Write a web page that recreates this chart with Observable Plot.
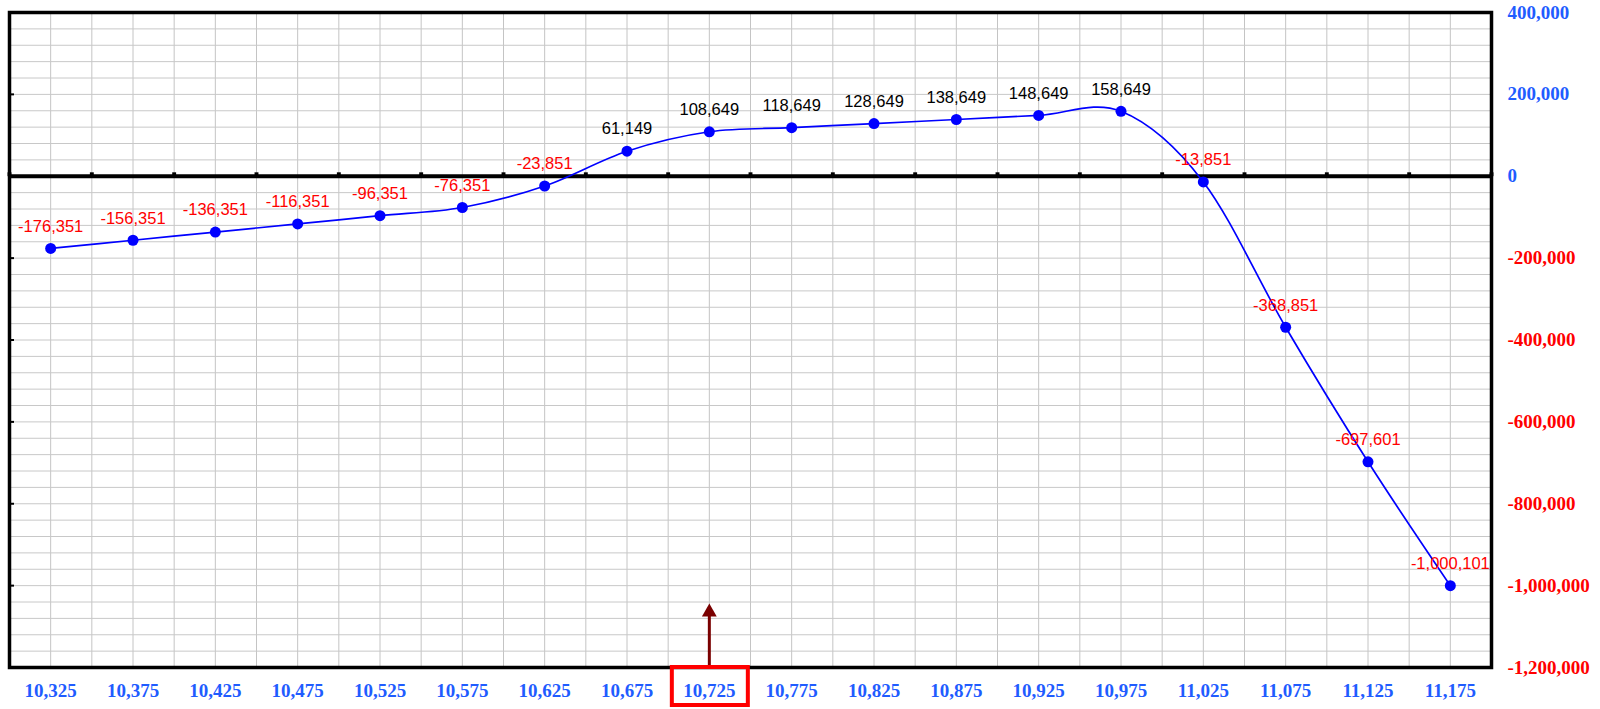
<!DOCTYPE html>
<html><head><meta charset="utf-8">
<script src="https://cdn.jsdelivr.net/npm/d3@7"></script>
<script src="https://cdn.jsdelivr.net/npm/@observablehq/plot@0.6"></script>
<style>body{margin:0;background:#fff}#chart svg{display:block}</style>
</head><body><div id="chart"></div>
<script>
// Data
const strikes = [10325, 10375, 10425, 10475, 10525, 10575, 10625, 10675, 10725, 10775, 10825, 10875, 10925, 10975, 11025, 11075, 11125, 11175];
const pnl = [-176351, -156351, -136351, -116351, -96351, -76351, -23851, 61149, 108649, 118649, 128649, 138649, 148649, 158649, -13851, -368851, -697601, -1000101];
const yTickValues = [400000, 200000, 0, -200000, -400000, -600000, -800000, -1000000, -1200000];
const xDomain = [10300, 11200];
const yDomain = [-1200000, 400000];
const xGrid = d3.range(10300, 11201, 25);
const yGrid = d3.range(-1200000, 400001, 40000);
const zeroMarks = d3.range(10300, 11201, 50);
const highlightStrike = [10725];
const arrowTipValue = -1072000;

const data = strikes.map((s, i) => ({strike: s, value: pnl[i]}));
const fmt = d3.formatLocale({decimal: ".", thousands: ",", grouping: [3], currency: ["", ""], minus: "-"}).format(",");
const BLUE = "#1f5cff";

const chart = Plot.plot({
  width: 1600,
  height: 709,
  marginTop: 12,
  marginBottom: 42,
  marginLeft: 9,
  marginRight: 109,
  x: {domain: xDomain},
  y: {domain: yDomain},
  color: {type: "identity"},
  style: {background: "#fff"},
  marks: [
    Plot.gridX(xGrid, {stroke: "#c4c4c4", strokeOpacity: 1, strokeWidth: 1}),
    Plot.gridY(yGrid, {stroke: "#c8c8c8", strokeOpacity: 1, strokeWidth: 1}),
    Plot.ruleY([0], {stroke: "black", strokeWidth: 4}),
    Plot.dot(zeroMarks, {x: d => d, y: 0, symbol: "square", r: 2.2, fill: "black", dy: -2}),
    Plot.axisY({anchor: "left", ticks: yTickValues, tickSize: -5, tickFormat: () => "", strokeWidth: 2, label: null}),
    Plot.line(data, {x: "strike", y: "value", curve: "cardinal", stroke: "#0000ff", strokeWidth: 1.7}),
    Plot.dot(data, {x: "strike", y: "value", r: 5.5, fill: "#0000ff"}),
    Plot.text(data, {x: "strike", y: "value", text: d => fmt(d.value), dy: -22,
      fill: d => d.value < 0 ? "#ff0000" : "#000000", fontSize: 16.5, fontFamily: "Liberation Sans, Arial, sans-serif"}),
    Plot.frame({stroke: "black", strokeWidth: 3.5}),
    Plot.axisX({ticks: strikes, tickSize: 0, tickPadding: 16, tickFormat: fmt, label: null,
      fill: BLUE, fontSize: 19, fontWeight: "bold", fontFamily: "Liberation Serif, Times New Roman, serif"}),
    Plot.axisY({anchor: "right", ticks: yTickValues, tickSize: 0, tickPadding: 16, tickFormat: fmt, label: null, textAnchor: "start",
      fill: d => d < 0 ? "#ff0000" : BLUE, fontSize: 19, fontWeight: "bold", fontFamily: "Liberation Serif, Times New Roman, serif"}),
    Plot.ruleX(highlightStrike, {x: d => d, y1: yDomain[0], y2: arrowTipValue, stroke: "#7a0000", strokeWidth: 3}),
    Plot.dot(highlightStrike, {x: d => d, y: arrowTipValue, symbol: "triangle", r: 5.5, fill: "#7a0000", dy: -3}),
    Plot.rect(highlightStrike, {x1: d => d, x2: d => d, y1: yDomain[0], y2: yDomain[0],
      insetLeft: -37, insetRight: -39, insetTop: 0, insetBottom: -38, fill: "none", stroke: "#ff0000", strokeWidth: 4})
  ]
});
document.getElementById("chart").appendChild(chart);
</script>
</body></html>
